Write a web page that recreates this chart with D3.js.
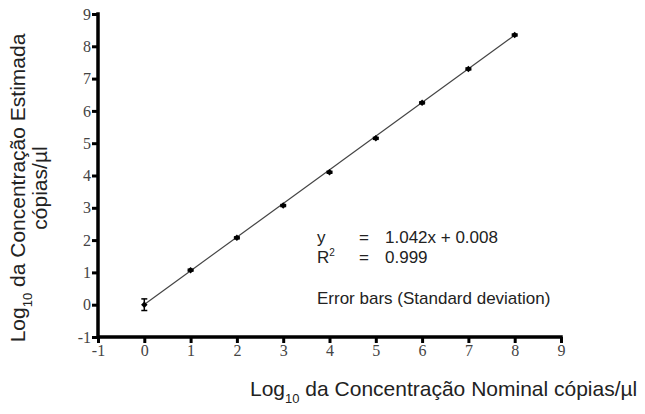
<!DOCTYPE html>
<html lang="en">
<head>
<meta charset="utf-8">
<script src="https://cdn.jsdelivr.net/npm/d3@7"></script>
<style>
  body { margin: 0; background: #fff; }
  .lbl { font-family: "Liberation Sans", Arial, sans-serif; fill: #222; }
</style>
</head>
<body>
<script>
// nominal log10 concentration vs estimated
var nominal = [0, 1, 2, 3, 4, 5, 6, 7, 8];
var estimated = [0.0, 1.07, 2.07, 3.07, 4.1, 5.15, 6.25, 7.3, 8.35];
var sd = [0.18, 0.03, 0.03, 0.03, 0.03, 0.03, 0.03, 0.03, 0.03];
var slope = 1.042, intercept = 0.008;
var ticks = [-1, 0, 1, 2, 3, 4, 5, 6, 7, 8, 9];

const w = 645, h = 414;
const svg = d3.select("body").append("svg").attr("width", w).attr("height", h);

const x = d3.scaleLinear().domain([-1, 9]).range([98, 561]);
const y = d3.scaleLinear().domain([-1, 9]).range([337, 14]);

// axes: drawn with d3.axis, then restyled
function styleAxis(g) {
  g.attr("font-size", null).attr("font-family", null);
  g.selectAll("path").remove();
  g.selectAll(".tick line").attr("stroke", "#000").attr("stroke-width", 3);
  g.selectAll(".tick text")
    .style("font-family", "'Liberation Serif', serif")
    .style("font-size", "16px")
    .style("fill", "#444");
}
const xAxis = d3.axisBottom(x).tickValues(ticks).tickFormat(d => String(d)).tickSize(6).tickPadding(2);
const yAxis = d3.axisLeft(y).tickValues(ticks).tickFormat(d => String(d)).tickSize(6).tickPadding(1);

const gx = svg.append("g").attr("transform", "translate(0," + y(-1) + ")").call(xAxis).call(styleAxis);
const gy = svg.append("g").attr("transform", "translate(" + x(-1) + ",0)").call(yAxis).call(styleAxis);

// thick axis lines along the scale ranges
svg.append("path")
  .attr("d", "M" + x(-1) + "," + y(9) + "V" + y(-1) + "H" + x(9))
  .attr("fill", "none").attr("stroke", "#000").attr("stroke-width", 3.5)
  .attr("stroke-linejoin", "miter").attr("stroke-linecap", "square");

// regression line
svg.append("line")
  .attr("x1", x(0)).attr("y1", y(intercept))
  .attr("x2", x(8)).attr("y2", y(slope * 8 + intercept))
  .attr("stroke", "#444").attr("stroke-width", 1.2);

// error bars
const eb = svg.append("g").attr("stroke", "#000").attr("stroke-width", 1.5);
nominal.forEach((n, i) => {
  eb.append("line").attr("x1", x(n)).attr("x2", x(n))
    .attr("y1", y(estimated[i] - sd[i])).attr("y2", y(estimated[i] + sd[i]));
  [-1, 1].forEach(s => {
    eb.append("line").attr("x1", x(n) - 3).attr("x2", x(n) + 3)
      .attr("y1", y(estimated[i] + s * sd[i])).attr("y2", y(estimated[i] + s * sd[i]));
  });
});

// points
svg.selectAll("rect.pt")
  .data(nominal)
  .enter()
  .append("rect")
  .attr("class", "pt")
  .attr("x", -2.3).attr("y", -2.3).attr("width", 4.6).attr("height", 4.6)
  .attr("transform", (d, i) => "translate(" + x(d) + "," + y(estimated[i]) + ") rotate(45)")
  .attr("fill", "#000");

// annotation
const ann = svg.append("g").attr("class", "lbl").style("font-size", "17px");
ann.append("text").attr("x", 317).attr("y", 243).text("y");
ann.append("text").attr("x", 359).attr("y", 243).text("=");
ann.append("text").attr("x", 385).attr("y", 243).text("1.042x + 0.008");
const r2 = ann.append("text").attr("x", 317).attr("y", 263).text("R");
r2.append("tspan").attr("dy", -7).style("font-size", "10px").text("2");
ann.append("text").attr("x", 359).attr("y", 263).text("=");
ann.append("text").attr("x", 385).attr("y", 263).text("0.999");
ann.append("text").attr("x", 317).attr("y", 304).text("Error bars (Standard deviation)");

// x title
const xt = svg.append("text").attr("class", "lbl").style("font-size", "21px")
  .attr("x", 250).attr("y", 396).text("Log");
xt.append("tspan").attr("dy", 7).style("font-size", "13px").text("10");
xt.append("tspan").attr("dy", -7).text(" da Concentração Nominal cópias/µl");

// y title
const yt = svg.append("g").attr("transform", "translate(0,188) rotate(-90)");
const y1 = yt.append("text").attr("class", "lbl").style("font-size", "21px")
  .attr("text-anchor", "middle").attr("x", 0).attr("y", 25).text("Log");
y1.append("tspan").attr("dy", 7).style("font-size", "13px").text("10");
y1.append("tspan").attr("dy", -7).text(" da Concentração Estimada");
yt.append("text").attr("class", "lbl").style("font-size", "21px")
  .attr("text-anchor", "middle").attr("x", 0).attr("y", 47).text("cópias/µl");
</script>
</body>
</html>
